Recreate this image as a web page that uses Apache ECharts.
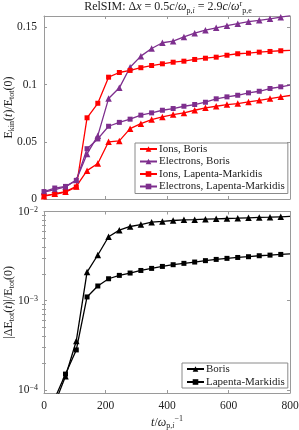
<!DOCTYPE html>
<html><head><meta charset="utf-8">
<script src="https://cdn.jsdelivr.net/npm/echarts@6/dist/echarts.min.js"></script>
<style>html,body{margin:0;padding:0;background:#fff}#c{width:299px;height:430px}</style>
</head><body><div id="c"></div>
<script>
// ---- data ----
const times = [0,35,70,105,140,175,210,245,280,315,350,385,420,455,490,525,560,595,630,665,700,735,770,800];
const ionsBoris = [0.0023,0.0046,0.0064,0.011,0.0248,0.031,0.050,0.0508,0.0615,0.0659,0.0694,0.0718,0.0738,0.0753,0.0776,0.0797,0.0811,0.0826,0.0834,0.0849,0.0863,0.0878,0.0893,0.0905];
const electronsBoris = [0.0061,0.0081,0.0105,0.0166,0.0394,0.0554,0.0878,0.0972,0.1152,0.1249,0.1316,0.1366,0.138,0.1417,0.1450,0.1476,0.1497,0.1515,0.1533,0.155,0.1562,0.1575,0.159,0.1603];
const ionsLM = [0.003,0.004,0.006,0.0105,0.071,0.0837,0.1065,0.1106,0.1124,0.1148,0.1167,0.1182,0.1196,0.1205,0.122,0.1231,0.124,0.1257,0.127,0.1275,0.1284,0.129,0.1296,0.130];
const electronsLM = [0.0065,0.0096,0.011,0.0163,0.044,0.0525,0.0636,0.067,0.0698,0.0733,0.0753,0.0776,0.0791,0.0811,0.0826,0.0846,0.0876,0.0893,0.0907,0.0928,0.0942,0.0966,0.0981,0.0995];
const errBoris = [1e-5,7e-5,1.42e-4,3.53e-4,2.09e-3,3.25e-3,5.21e-3,6.18e-3,6.79e-3,7.14e-3,7.59e-3,7.73e-3,7.93e-3,8.07e-3,8.1e-3,8.2e-3,8.28e-3,8.35e-3,8.41e-3,8.5e-3,8.57e-3,8.63e-3,8.72e-3,8.8e-3];
const errLM = [1e-5,8e-5,1.5e-4,2.8e-4,1.10e-3,1.46e-3,1.76e-3,1.92e-3,2.04e-3,2.18e-3,2.30e-3,2.42e-3,2.53e-3,2.62e-3,2.71e-3,2.81e-3,2.90e-3,2.98e-3,3.05e-3,3.11e-3,3.19e-3,3.24e-3,3.30e-3,3.35e-3];
const xTicks = [0,200,400,600,800];
const logMajor = [1e-4,1e-3,1e-2];
const logMinor = [2e-4,3e-4,4e-4,5e-4,6e-4,7e-4,8e-4,9e-4,2e-3,3e-3,4e-3,5e-3,6e-3,7e-3,8e-3,9e-3];

// ---- style ----
const FONT = 'Liberation Serif';
const RED = '#ff0000', PURPLE = '#7e2f8e', BLACK = '#000000';
const AX = '#9a9a9a', TXT = '#222';
const rich = {
  i: {fontStyle: 'italic', fontFamily: FONT, fontSize: 12, lineHeight: 15},
  sub: {fontSize: 8, fontFamily: FONT, lineHeight: 7, verticalAlign: 'bottom'},
  subi: {fontSize: 8, fontFamily: FONT, fontStyle: 'italic', lineHeight: 7, verticalAlign: 'bottom'},
  sup: {fontSize: 8, fontFamily: FONT, lineHeight: 8, verticalAlign: 'top'}
};

function pts(vals) {
  return times.map((t, i) => i === times.length - 1 ? {value: [t, vals[i]], symbol: 'none'} : [t, vals[i]]);
}
function ser(name, vals, color, sym, gi) {
  return {
    name, type: 'line', xAxisIndex: gi === 0 ? 0 : 2, yAxisIndex: gi === 0 ? 0 : 2,
    data: pts(vals), symbol: sym, symbolSize: sym === 'triangle' ? 6.5 : 5, showAllSymbol: true,
    lineStyle: {color, width: 1.3}, itemStyle: {color}, animation: false, clip: true, z: 3
  };
}
const tick = {show: true, inside: true, length: 3, lineStyle: {color: AX, width: 1}};
const line = {show: true, onZero: false, lineStyle: {color: AX, width: 1}};
function xAx(gi, pos, labels) {
  return {
    type: 'value', gridIndex: gi, position: pos, min: 0, max: 800, interval: 200,
    axisLine: line, axisTick: tick, splitLine: {show: false},
    axisLabel: {show: labels, color: TXT, fontFamily: FONT, fontSize: 11.5, margin: 7},
    name: labels ? '{i|t}/{i|ω}{sub|p,}{subi|i}{sup|−1}' : '',
    nameLocation: 'middle', nameGap: 22, nameMoveOverlap: false,
    nameTextStyle: {color: TXT, fontFamily: FONT, fontSize: 12, lineHeight: 15, rich}
  };
}
function logFmt(v) {
  const e = Math.log10(v);
  if (Math.abs(e - Math.round(e)) > 1e-6) return '';
  return '10{sup|−' + Math.abs(Math.round(e)) + '}';
}
const option = {
  animation: false,
  grid: [
    {left: 44, right: 9, top: 16, height: 183, outerBoundsMode: 'none', containLabel: false},
    {left: 44, right: 9, top: 211.5, height: 181.5, outerBoundsMode: 'none', containLabel: false}
  ],
  xAxis: [xAx(0, 'bottom', false), xAx(0, 'top', false), xAx(1, 'bottom', true), xAx(1, 'top', false)],
  yAxis: [
    {type: 'value', gridIndex: 0, position: 'left', min: 0, max: 0.16, interval: 0.05,
     axisLine: line, axisTick: tick, splitLine: {show: false},
     axisLabel: {color: TXT, fontFamily: FONT, fontSize: 11.5, margin: 7, showMaxLabel: false},
     name: 'E{sub|kin}({i|t})/E{sub|tot}(0)', nameLocation: 'middle', nameGap: 28, nameMoveOverlap: false,
     nameTextStyle: {color: TXT, fontFamily: FONT, fontSize: 12, lineHeight: 15, rich}},
    {type: 'value', gridIndex: 0, position: 'right', min: 0, max: 0.16, interval: 0.05,
     axisLine: line, axisTick: tick, splitLine: {show: false}, axisLabel: {show: false}},
    {type: 'log', gridIndex: 1, position: 'left', min: 9.2e-5, max: 1e-2, logBase: 10,
     axisLine: line, axisTick: {show: true, inside: true, length: 3, lineStyle: {color: AX}, customValues: logMajor},
     splitLine: {show: false},
     axisLabel: {color: TXT, fontFamily: FONT, fontSize: 11.5, margin: 6, formatter: logFmt, customValues: logMajor,
       rich: {sup: {fontSize: 8, fontFamily: FONT, lineHeight: 8, verticalAlign: 'top'}}},
     name: '|ΔE{sub|tot}({i|t})|/E{sub|tot}(0)', nameLocation: 'middle', nameGap: 28, nameMoveOverlap: false,
     nameTextStyle: {color: TXT, fontFamily: FONT, fontSize: 12, lineHeight: 15, rich}},
    {type: 'log', gridIndex: 1, position: 'right', min: 9.2e-5, max: 1e-2, logBase: 10,
     axisLine: line, axisTick: {show: true, inside: true, length: 3, lineStyle: {color: AX}, customValues: logMajor},
     splitLine: {show: false}, axisLabel: {show: false}},
    {type: 'log', gridIndex: 1, position: 'left', min: 9.2e-5, max: 1e-2, logBase: 10,
     axisLine: {show: false}, axisTick: {show: true, inside: true, length: 2, lineStyle: {color: AX}, customValues: logMinor},
     splitLine: {show: false}, axisLabel: {show: false}},
    {type: 'log', gridIndex: 1, position: 'right', min: 9.2e-5, max: 1e-2, logBase: 10,
     axisLine: {show: false}, axisTick: {show: true, inside: true, length: 2, lineStyle: {color: AX}, customValues: logMinor},
     splitLine: {show: false}, axisLabel: {show: false}}
  ],
  legend: [
    {left: 135, top: 143, orient: 'vertical', itemWidth: 17, itemHeight: 7, itemGap: 0.5,
     padding: [0, 3, 1, 4], borderColor: '#8a8a8a', borderWidth: 1, backgroundColor: '#fff',
     data: ['Ions, Boris', 'Electrons, Boris', 'Ions, Lapenta-Markidis', 'Electrons, Lapenta-Markidis'],
     textStyle: {color: TXT, fontFamily: FONT, fontSize: 11, lineHeight: 12, padding: [0, 0, 0, -3]}},
    {left: 182, top: 363, orient: 'vertical', itemWidth: 17, itemHeight: 7, itemGap: 1,
     padding: [0, 3, 0, 4], borderColor: '#8a8a8a', borderWidth: 1, backgroundColor: '#fff',
     data: ['Boris', 'Lapenta-Markidis'],
     textStyle: {color: TXT, fontFamily: FONT, fontSize: 11, lineHeight: 12, padding: [0, 0, 0, -3]}}
  ],
  graphic: [{
    type: 'text', x: 168, y: 7, z: 10,
    style: {
      text: 'RelSIM: Δ{i|x} = 0.5{i|c}/{i|ω}{sub|p,}{subi|i} = 2.9{i|c}/{i|ω}{sup|r}{sub|p,e}',
      rich, fontFamily: FONT, fontSize: 12, lineHeight: 15, fill: TXT, align: 'center', verticalAlign: 'middle'
    }
  }],
  series: [
    ser('Ions, Boris', ionsBoris, RED, 'triangle', 0),
    ser('Electrons, Boris', electronsBoris, PURPLE, 'triangle', 0),
    ser('Ions, Lapenta-Markidis', ionsLM, RED, 'rect', 0),
    ser('Electrons, Lapenta-Markidis', electronsLM, PURPLE, 'rect', 0),
    ser('Boris', errBoris, BLACK, 'triangle', 1),
    ser('Lapenta-Markidis', errLM, BLACK, 'rect', 1)
  ]
};
const chart = echarts.init(document.getElementById('c'), null, {renderer: 'canvas'});
chart.setOption(option);
</script>
</body></html>
